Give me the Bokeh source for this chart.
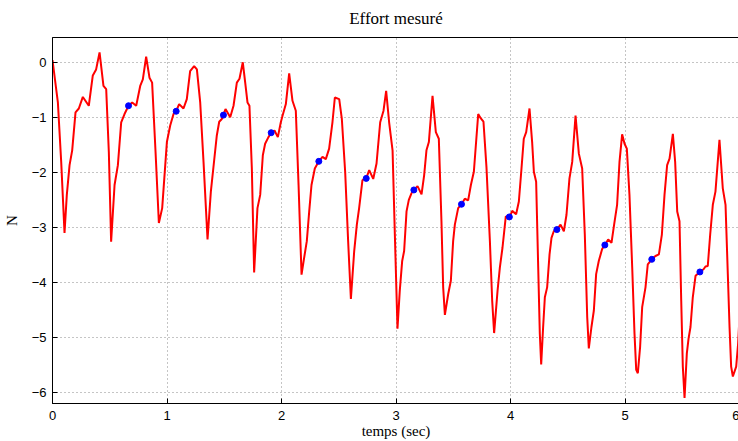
from bokeh.plotting import figure
from bokeh.models import Range1d, FixedTicker
from bokeh.embed import file_html
from bokeh.resources import INLINE

# temps (sec) et effort mesuré (N)
t = [0.000, 0.047, 0.076, 0.105, 0.125, 0.149, 0.172, 0.201, 0.230, 0.265, 0.317, 0.352, 0.381, 0.411,
     0.445, 0.469, 0.492, 0.512, 0.542, 0.571, 0.600, 0.629, 0.664, 0.696, 0.731, 0.766, 0.789, 0.818,
     0.847, 0.870, 0.900, 0.929, 0.958, 0.999, 1.028, 1.057, 1.080, 1.106, 1.144, 1.173, 1.202,
     1.237, 1.261, 1.290, 1.319, 1.354, 1.383, 1.412, 1.435, 1.456, 1.479, 1.493, 1.511, 1.552, 1.581,
     1.610, 1.633, 1.662, 1.683, 1.703, 1.720, 1.741, 1.761, 1.790, 1.814, 1.837, 1.857, 1.886, 1.910,
     1.939, 1.968, 1.994, 2.009, 2.038, 2.067, 2.096, 2.125, 2.149, 2.175, 2.198, 2.221, 2.242, 2.262,
     2.291, 2.326, 2.358, 2.387, 2.416, 2.445, 2.466, 2.504, 2.527, 2.556, 2.582, 2.606, 2.635, 2.658,
     2.678, 2.707, 2.740, 2.766, 2.801, 2.830, 2.862, 2.891, 2.914, 2.940, 2.970, 2.990, 3.013, 3.033,
     3.054, 3.071, 3.092, 3.112, 3.135, 3.156, 3.188, 3.223, 3.246, 3.266, 3.287, 3.319, 3.348, 3.374,
     3.397, 3.412, 3.427, 3.456, 3.479, 3.499, 3.514, 3.543, 3.572, 3.601, 3.630, 3.654, 3.680, 3.718,
     3.741, 3.764, 3.790, 3.820, 3.840, 3.857, 3.887, 3.907, 3.930, 3.959, 3.991, 4.015, 4.049, 4.073,
     4.096, 4.116, 4.137, 4.166, 4.189, 4.204, 4.224, 4.242, 4.256, 4.268, 4.285, 4.300, 4.320, 4.341,
     4.358, 4.378, 4.405, 4.437, 4.466, 4.489, 4.515, 4.539, 4.568, 4.597, 4.626, 4.649, 4.670, 4.684,
     4.707, 4.728, 4.748, 4.771, 4.801, 4.824, 4.853, 4.882, 4.905, 4.931, 4.952, 4.975, 4.996, 5.016,
     5.039, 5.063, 5.083, 5.098, 5.112, 5.132, 5.150, 5.179, 5.199, 5.234, 5.266, 5.296, 5.322, 5.345,
     5.368, 5.389, 5.418, 5.438, 5.456, 5.476, 5.491, 5.505, 5.520, 5.540, 5.555, 5.572, 5.592, 5.616,
     5.654, 5.686, 5.703, 5.723, 5.744, 5.767, 5.790, 5.825, 5.854, 5.878, 5.898, 5.913, 5.927, 5.942,
     5.971, 5.988, 6.000]
N = [0.04, -0.73, -1.81, -3.10, -2.41, -1.87, -1.60, -0.91, -0.84, -0.63, -0.79, -0.24, -0.13, 0.18,
     -0.43, -0.49, -1.63, -3.26, -2.23, -1.87, -1.09, -0.94, -0.79, -0.73, -0.79, -0.43, -0.31, 0.10,
     -0.28, -0.37, -1.63, -2.92, -2.65, -1.45, -1.15, -0.94, -0.89, -0.76, -0.84, -0.67, -0.16,
     -0.07, -0.13, -0.73, -1.81, -3.22, -2.35, -1.78, -1.33, -1.08, -1.03, -0.96, -0.85, -1.00, -0.79,
     -0.37, -0.30, 0.00, -0.37, -0.73, -0.79, -1.93, -3.82, -2.65, -2.41, -1.69, -1.48, -1.36, -1.28,
     -1.24, -1.36, -1.09, -0.97, -0.76, -0.20, -0.70, -0.88, -2.23, -3.86, -3.55, -3.25, -2.71, -2.23,
     -1.93, -1.80, -1.72, -1.76, -1.57, -1.09, -0.64, -0.67, -1.03, -1.99, -3.25, -4.30, -3.43, -2.95,
     -2.65, -2.14, -2.11, -1.96, -2.12, -1.84, -1.09, -0.88, -0.52, -1.09, -1.60, -3.13, -4.84, -4.15,
     -3.61, -3.43, -2.71, -2.50, -2.38, -2.32, -2.25, -2.40, -2.05, -1.60, -1.45, -0.61, -1.27, -1.39,
     -2.89, -4.09, -4.59, -4.21, -3.97, -3.25, -2.95, -2.65, -2.58, -2.48, -2.51, -2.23, -1.99, -0.94,
     -1.02, -1.08, -1.90, -3.25, -4.33, -4.92, -4.15, -3.73, -3.37, -2.80, -2.82, -2.70, -2.76, -2.53,
     -1.93, -1.39, -1.27, -0.84, -1.45, -1.99, -2.17, -3.73, -4.93, -5.49, -4.81, -4.27, -4.09, -3.49,
     -3.19, -3.07, -3.04, -2.95, -3.07, -2.77, -2.11, -1.81, -0.97, -1.66, -1.93, -3.13, -4.63, -5.20,
     -4.81, -4.51, -3.85, -3.61, -3.39, -3.32, -3.22, -3.28, -2.95, -2.59, -1.81, -1.31, -1.48, -1.57,
     -2.41, -3.73, -4.93, -5.59, -5.65, -5.17, -4.45, -4.09, -3.67, -3.58, -3.52, -3.49, -3.13, -2.41,
     -1.87, -1.75, -1.30, -1.81, -2.71, -2.89, -4.33, -5.53, -6.10, -5.29, -5.02, -4.81, -4.27, -3.88,
     -3.81, -3.76, -3.71, -3.70, -3.13, -2.59, -2.35, -1.41, -2.29, -2.59, -3.85, -4.81, -5.53, -5.71,
     -5.53, -5.11, -4.62]

# points marqués (bleu)
dot_t = [0.664, 1.080, 1.493, 1.910, 2.326, 2.740, 3.156, 3.572, 3.990, 4.405, 4.824, 5.234, 5.654]
dot_N = [-0.79, -0.89, -0.96, -1.28, -1.80, -2.11, -2.32, -2.58, -2.81, -3.04, -3.32, -3.58, -3.81]

x_ticks = [0, 1, 2, 3, 4, 5, 6]
y_ticks = [-6, -5, -4, -3, -2, -1, 0]

p = figure(width=739, height=441, x_range=Range1d(0, 6), y_range=Range1d(-6.2, 0.45),
           output_backend="svg", toolbar_location=None,
           min_border_left=0, min_border_right=0, min_border_top=0, min_border_bottom=0)
p.background_fill_color = "white"
p.border_fill_color = "white"
p.outline_line_color = "black"
p.outline_line_width = 1

p.title.text = "Effort mesuré"
p.title.align = "center"
p.title.vertical_align = "top"
p.title.text_font = "Liberation Serif"
p.title.text_font_size = "17px"
p.title.text_font_style = "normal"
p.title.text_color = "black"
p.title.standoff = 16

for ax, ticks in ((p.xaxis[0], x_ticks), (p.yaxis[0], y_ticks)):
    ax.ticker = FixedTicker(ticks=ticks)
    ax.major_tick_in = 5
    ax.major_tick_out = 0
    ax.minor_tick_in = 0
    ax.minor_tick_out = 0
    ax.axis_line_color = "black"
    ax.major_tick_line_color = "black"
    ax.major_label_text_font = "Liberation Sans"
    ax.major_label_text_font_size = "13px"
    ax.major_label_text_color = "black"
    ax.axis_label_text_font = "Liberation Serif"
    ax.axis_label_text_font_size = "15px"
    ax.axis_label_text_font_style = "normal"
    ax.axis_label_text_color = "black"

p.xaxis.major_label_standoff = 7
p.xaxis.axis_label_standoff = 0
p.yaxis.major_label_standoff = 6
p.yaxis.axis_label_standoff = 9

p.xaxis.axis_label = "temps (sec)"
p.yaxis.axis_label = "N"

p.xgrid.ticker = FixedTicker(ticks=x_ticks)
p.ygrid.ticker = FixedTicker(ticks=y_ticks)
p.grid.grid_line_color = "#8a8a8a"
p.grid.grid_line_dash = "1 3"
p.grid.grid_line_width = 1

p.line(t, N, line_color="#ff0000", line_width=2)
p.scatter(dot_t, dot_N, size=6, fill_color="#0000ff", line_color="#0000ff")

open("out.html", "w").write(file_html(p, INLINE))
